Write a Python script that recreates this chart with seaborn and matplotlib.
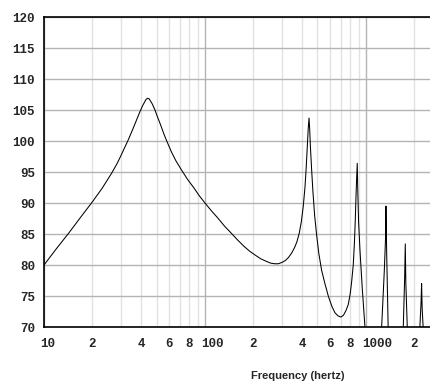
import matplotlib
matplotlib.use("Agg")
import numpy as np
import pandas as pd
import seaborn as sns
from matplotlib import pyplot as plt
from matplotlib.transforms import ScaledTranslation

# frequency response (hertz, level)
freq = [10, 12, 14.2, 17, 20, 23, 26.3, 28.5, 30, 33.4, 36, 39.4, 41, 43, 44, 45, 47,
        48.9, 50.5, 53, 56, 59.2, 62, 66, 71.6, 78, 85, 92, 100, 110, 120, 132, 146,
        160, 175, 190, 205, 222, 240, 256, 272, 285, 300, 315, 330, 345, 360, 372,
        385, 397, 408, 418, 425, 432, 438, 443, 447, 452, 460, 468, 480, 494, 510,
        530, 556, 585, 615, 642, 670, 699, 725, 750, 776, 798, 815, 834, 848, 858,
        866, 874, 883, 890, 900, 918, 950, 986, 1010, 1200, 1252, 1300, 1325, 1331,
        1345, 1374, 1420, 1650, 1706, 1740, 1755, 1770, 1806, 1850, 2100, 2163,
        2200, 2217, 2235, 2266, 2300]
level = [80.0, 82.7, 85.1, 87.8, 90.2, 92.4, 94.8, 96.4, 97.6, 100.2, 102.2, 104.7,
         105.7, 106.7, 106.9, 106.8, 106.0, 105.0, 104.0, 102.6, 100.9, 99.4, 98.2,
         96.8, 95.3, 93.8, 92.5, 91.2, 90.0, 88.7, 87.6, 86.3, 85.1, 84.0, 83.0, 82.2,
         81.6, 81.0, 80.6, 80.3, 80.2, 80.2, 80.4, 80.7, 81.2, 81.9, 82.8, 83.7, 85.1,
         87.0, 89.5, 92.5, 95.5, 99.0, 102.0, 103.7, 102.0, 99.0, 95.3, 92.0, 88.0,
         84.8, 81.8, 79.2, 77.0, 74.9, 73.3, 72.3, 71.8, 71.6, 71.9, 72.6, 73.6, 75.3,
         77.3, 80.0, 83.6, 87.0, 90.5, 93.5, 96.4, 92.0, 87.0, 82.4, 76.0, 70.0, 66.0,
         64.0, 70.0, 79.0, 84.6, 89.5, 82.0, 70.0, 64.0, 64.0, 70.0, 78.0, 83.4, 77.0,
         70.0, 65.0, 65.0, 70.0, 74.0, 77.0, 73.0, 70.0, 66.0]

y_ticks = [70, 75, 80, 85, 90, 95, 100, 105, 110, 115, 120]
decade_ticks = [10, 100, 1000]
decade_labels = ["10", "100", "1000"]
minor_ticks = [20, 30, 40, 50, 60, 70, 80, 90, 200, 300, 400, 500, 600, 700, 800, 900, 2000]
minor_labels = ["2", "", "4", "", "6", "", "8", "", "2", "", "4", "", "6", "", "8", "", "2"]

df = pd.DataFrame({"freq": freq, "level": level})

sns.set_style("white")
tick_font = {"family": "Liberation Mono", "weight": "bold", "size": 9}

fig = plt.figure(figsize=(4.3, 3.88), dpi=100)
ax = fig.add_axes([44 / 430, 1 - 327 / 388, 386 / 430, 310 / 388])

sns.lineplot(data=df, x="freq", y="level", sort=False, estimator=None,
             color="black", linewidth=0.75, ax=ax)

ax.set_xscale("log")
ax.set_xlim(10, 2500)
ax.set_ylim(70, 120)

ax.set_xticks(decade_ticks, labels=decade_labels)
ax.set_xticks(minor_ticks, labels=minor_labels, minor=True)
ax.set_yticks(y_ticks, labels=[str(v) for v in y_ticks])

ax.tick_params(axis="both", which="both", length=0)
ax.tick_params(axis="x", which="both", pad=8)
ax.tick_params(axis="y", pad=6.5)

for lab in ax.get_xticklabels() + ax.get_xticklabels(minor=True) + ax.get_yticklabels():
    lab.set_fontfamily(tick_font["family"])
    lab.set_fontweight(tick_font["weight"])
    lab.set_fontsize(tick_font["size"])

# decade labels sit with their first digit on the gridline
shift = ScaledTranslation(-3.7 / 100, 0, fig.dpi_scale_trans)
for lab in ax.get_xticklabels():
    lab.set_horizontalalignment("left")
    lab.set_transform(lab.get_transform() + shift)

ax.grid(True, which="major", axis="both", color="#b4b4b4", linewidth=1)
ax.grid(True, which="minor", axis="x", color="#e2e2e2", linewidth=1)
ax.set_axisbelow(True)

for side in ["left", "bottom", "top"]:
    ax.spines[side].set_color("black")
    ax.spines[side].set_linewidth(1.2)
ax.spines["right"].set_visible(False)

ax.set_ylabel("")
ax.set_xlabel("Frequency (hertz)", family="Liberation Sans", weight="bold", fontsize=8)
ax.xaxis.set_label_coords(254 / 386, -44 / 310)

fig.savefig("out.png", dpi=100)
